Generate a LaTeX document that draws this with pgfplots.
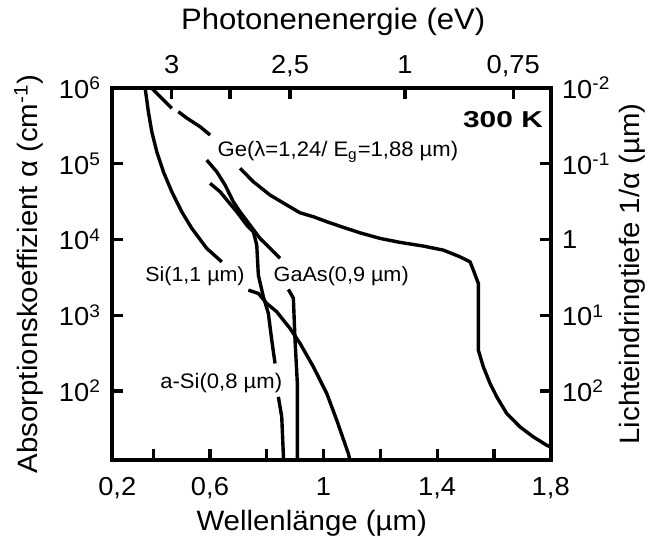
\documentclass[border=0pt]{standalone}
\usepackage{pgfplots}
\pgfplotsset{compat=1.18}
\usepackage{fontspec}
\setmainfont{Liberation Sans}[FakeStretch=1.05]
\newfontfamily\widefont{Liberation Sans}[FakeStretch=1.3]
\begin{document}
\begin{tikzpicture}
\useasboundingbox (-56pt,-40pt) rectangle (269pt,230.05pt);
\begin{axis}[scale only axis, width=219.5pt, height=186.2pt,
  xmin=0.255, xmax=1.801, ymode=log, ymin=12.3, ymax=1e6,
  axis line style={line width=2pt, black},
  yminorticks=false,
  tick label style={font=\fontsize{13}{15}\selectfont, black},
  tick style={line width=1.6pt, black},
  major tick length=5.5pt, minor tick length=5.5pt, tick align=inside,
  xtick={0.6,1,1.4,1.8},
  xticklabels={{0,6},1,{1,4},{1,8}},
  minor xtick={0.4,0.8,1.2,1.6},
  xtick pos=left, ytick pos=left,
  ytick={1e2,1e3,1e4,1e5,1e6},
  yticklabels={10\textsuperscript{2},10\textsuperscript{3},10\textsuperscript{4},10\textsuperscript{5},10\textsuperscript{6}},
  xticklabel style={anchor=base, yshift=-17.5pt},
  yticklabel style={anchor=east, xshift=-2pt},
]
% Si
\addplot[black, line width=1.7pt, mark=none] coordinates {(0.3715,1.0e6) (0.3831,4.82e5) (0.3951,2.63e5) (0.4127,1.43e5) (0.4359,7.80e4) (0.4655,4.25e4) (0.5007,2.31e4) (0.5359,1.40e4) (0.5887,7.61e3) (0.6415,5.06e3)};
\addplot[black, line width=1.7pt, mark=none] coordinates {(0.7352,2.14e3) (0.7704,1.94e3) (0.8,1.43e3) (0.8352,1.11e3) (0.882,670) (0.9173,425) (0.9641,209) (1.0113,93.0) (1.0465,41.3) (1.0873,15.0) (1.0933,12.1)};
% Ge
\addplot[black, line width=1.7pt, mark=none] coordinates {(0.3951,9.82e5) (0.4655,5.35e5)};
\addplot[black, line width=1.7pt, mark=none] coordinates {(0.4887,4.83e5) (0.5183,3.98e5) (0.5651,3.06e5) (0.6004,2.38e5)};
\addplot[black, line width=1.7pt, mark=none] coordinates {(0.706,8.65e4) (0.7528,5.75e4) (0.8116,3.84e4) (0.8704,2.84e4) (0.9173,2.24e4) (0.9641,1.99e4) (1.0113,1.71e4) (1.0697,1.44e4) (1.1285,1.22e4) (1.1989,1.03e4) (1.2694,9.13e3) (1.3514,8.16e3) (1.4218,7.22e3) (1.4806,5.89e3) (1.5158,5.06e3) (1.5275,3.94e3) (1.5451,2.63e3) (1.5451,346) (1.5627,209) (1.5863,126) (1.6099,83.9) (1.6451,50.6) (1.6919,33.7) (1.7387,24.9) (1.7859,19.3) (1.8011,18.2)};
% GaAs
\addplot[black, line width=1.7pt, mark=none] coordinates {(0.5887,1.11e5) (0.6239,7.80e4) (0.6532,5.21e4) (0.6824,3.13e4) (0.706,2.31e4) (0.7412,1.54e4) (0.7764,1.03e4) (0.8116,7.61e3) (0.8468,5.62e3)};
\addplot[black, line width=1.7pt, mark=none] coordinates {(0.8761,2.19e3) (0.8937,1.68e3) (0.8996,469) (0.9077,127) (0.9077,12)};
% a-Si
\addplot[black, line width=1.7pt, mark=none] coordinates {(0.6004,5.48e4) (0.6356,4.25e4) (0.6648,3.13e4) (0.6944,2.31e4) (0.7296,1.54e4) (0.7528,1.26e4) (0.7648,8.41e3) (0.7704,3.38e3) (0.788,1.75e3) (0.8056,1.06e3) (0.8176,469) (0.8292,231)};
\addplot[black, line width=1.7pt, mark=none] coordinates {(0.8408,83.9) (0.8528,45.7) (0.8585,14.3) (0.8585,12)};
\end{axis}
\begin{axis}[scale only axis, width=219.5pt, height=186.2pt,
  xmin=0.255, xmax=1.801, ymode=log, ymin=12.3, ymax=1e6,
  axis x line*=top, axis y line*=right,
  axis line style={line width=2pt, black},
  yminorticks=false,
  tick label style={font=\fontsize{13}{15}\selectfont, black},
  tick style={line width=1.6pt, black},
  major tick length=5.5pt, minor tick length=5.5pt, tick align=inside,
  clip=false,
  xtick={0.4655,0.6708,0.8820,1.2870,1.6681},
  xticklabels={3,,{2,5},1,{0,75}},
  ytick={1e2,1e3,1e4,1e5,1e6},
  yticklabels={10\textsuperscript{2},10\textsuperscript{1},1,10\textsuperscript{-1},10\textsuperscript{-2}},
  xticklabel style={anchor=base, yshift=7.2pt},
  yticklabel style={anchor=west, xshift=2pt},
]
\node[anchor=base, font=\fontsize{13}{15}\selectfont] at (axis description cs:0.012,-0.094) {0,2};
\node[anchor=base, font=\fontsize{14}{16}\selectfont] at (axis description cs:0.455,-0.188) {Wellenlänge (µm)};
\node[anchor=base, font=\fontsize{14.8}{17}\selectfont] at (axis description cs:0.504,1.155) {Photonenenergie (eV)};
\node[anchor=base, rotate=90, font=\fontsize{14}{16}\selectfont] at (axis description cs:-0.1686,0.5) {Absorptionskoeffizient α (cm\textsuperscript{-1})};
\node[anchor=base, rotate=90, font=\fontsize{14}{16}\selectfont] at (axis description cs:1.2005,0.5) {Lichteindringtiefe 1/α (µm)};
\node[anchor=base east, inner sep=0pt, font=\widefont\bfseries\fontsize{11.5}{13}\selectfont] at (axis description cs:0.9825,0.8936) {300 K};
\node[anchor=base west, inner sep=0pt, font=\fontsize{10.5}{12}\selectfont] at (axis description cs:0.2399,0.8147) {Ge(λ=1,24/ E\textsubscript{g}=1,88 µm)};
\node[anchor=base west, inner sep=0pt, font=\fontsize{10.2}{12}\selectfont] at (axis description cs:0.0752,0.4808) {Si(1,1 µm)};
\node[anchor=base west, inner sep=0pt, font=\fontsize{10.3}{12}\selectfont] at (axis description cs:0.3674,0.4808) {GaAs(0,9 µm)};
\node[anchor=base west, inner sep=0pt, font=\fontsize{10.5}{12}\selectfont] at (axis description cs:0.1093,0.1934) {a-Si(0,8 µm)};
\end{axis}
\end{tikzpicture}
\end{document}
